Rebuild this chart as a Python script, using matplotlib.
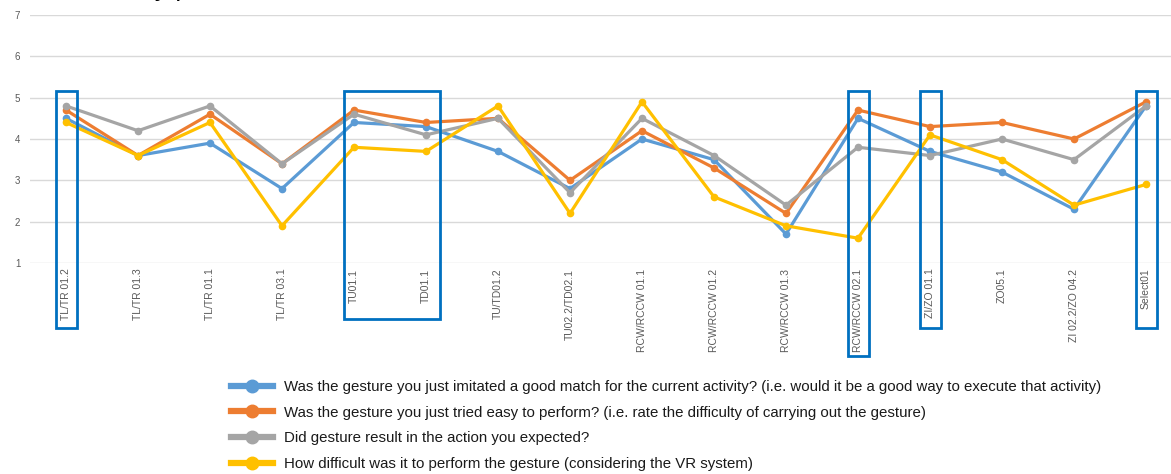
import matplotlib.pyplot as plt
from matplotlib.patches import Rectangle

plt.rcParams['font.family'] = ['Liberation Sans', 'DejaVu Sans']

gestures = ['TL/TR 01.2', 'TL/TR 01.3', 'TL/TR 01.1', 'TL/TR 03.1', 'TU01.1', 'TD01.1',
            'TU/TD01.2', 'TU02.2/TD02.1', 'RCW/RCCW 01.1', 'RCW/RCCW 01.2', 'RCW/RCCW 01.3',
            'RCW/RCCW 02.1', 'ZI/ZO 01.1', 'ZO05.1', 'ZI 02.2/ZO 04.2', 'Select01']

good_match = [4.5, 3.6, 3.9, 2.8, 4.4, 4.3, 3.7, 2.8, 4.0, 3.5, 1.7, 4.5, 3.7, 3.2, 2.3, 4.8]
easy_perform = [4.7, 3.6, 4.6, 3.4, 4.7, 4.4, 4.5, 3.0, 4.2, 3.3, 2.2, 4.7, 4.3, 4.4, 4.0, 4.9]
expected_action = [4.8, 4.2, 4.8, 3.4, 4.6, 4.1, 4.5, 2.7, 4.5, 3.6, 2.4, 3.8, 3.6, 4.0, 3.5, 4.8]
vr_difficulty = [4.4, 3.6, 4.4, 1.9, 3.8, 3.7, 4.8, 2.2, 4.9, 2.6, 1.9, 1.6, 4.1, 3.5, 2.4, 2.9]

questions = [
    'Was the gesture you just imitated a good match for the current activity? (i.e. would it be a good way to execute that activity)',
    'Was the gesture you just tried easy to perform? (i.e. rate the difficulty of carrying out the gesture)',
    'Did gesture result in the action you expected?',
    'How difficult was it to perform the gesture (considering the VR system)',
]
colors = ['#5B9BD5', '#ED7D31', '#A5A5A5', '#FFC000']

# highlighted gestures: (first index, last index, how far the box reaches below the axis)
highlights = [(0, 0, 1.57), (4, 5, 1.35), (11, 11, 2.25), (12, 12, 1.57), (15, 15, 1.57)]

fig = plt.figure(figsize=(11.71, 4.74), dpi=100)
ax = fig.add_axes([30 / 1171, 211 / 474, 1152 / 1171, 248 / 474])

x = range(len(gestures))
series = [good_match, easy_perform, expected_action, vr_difficulty]
for vals, col, lab in zip(series, colors, questions):
    ax.plot(x, vals, color=col, lw=2.3, marker='o', ms=4.5, label=lab, solid_joinstyle='round')

ax.set_xlim(-0.5, len(gestures) - 0.5)
ax.set_ylim(1, 7)
ax.set_yticks(range(1, 8))
ax.set_xticks(list(x))
ax.set_xticklabels(gestures, rotation=90, va='top', ha='center', fontsize=7.5, color='#595959')
ax.tick_params(axis='y', labelsize=7, colors='#595959', length=0, pad=7)
ax.tick_params(axis='x', length=0, pad=4)
ax.grid(axis='y', color='#D9D9D9', lw=1)
ax.set_axisbelow(True)
for s in ax.spines.values():
    s.set_visible(False)

# boxes around highlighted gestures
for first, last, depth in highlights:
    x0 = first - 0.14
    x1 = last + (0.19 if last > first else 0.15)
    ax.add_patch(Rectangle((x0, 1 - depth), x1 - x0, 5.16 - (1 - depth), fill=False,
                           edgecolor='#0070C0', lw=2, clip_on=False, zorder=5))

# title sits mostly above the top edge
fig.text(55 / 1171, 1.009, 'Summary per item', fontsize=19, va='baseline', ha='left')

fig.legend(loc='upper left', bbox_to_anchor=(225 / 1171, 1 - 374 / 474), frameon=False,
           fontsize=10.8, handlelength=2.8, handletextpad=0.72, labelspacing=0.78,
           borderaxespad=0, labelcolor='#1a1a1a')
for h in fig.legends[0].legend_handles:
    h.set_linewidth(4.5)
    h.set_markersize(9)

fig.savefig('out.png', dpi=100)
